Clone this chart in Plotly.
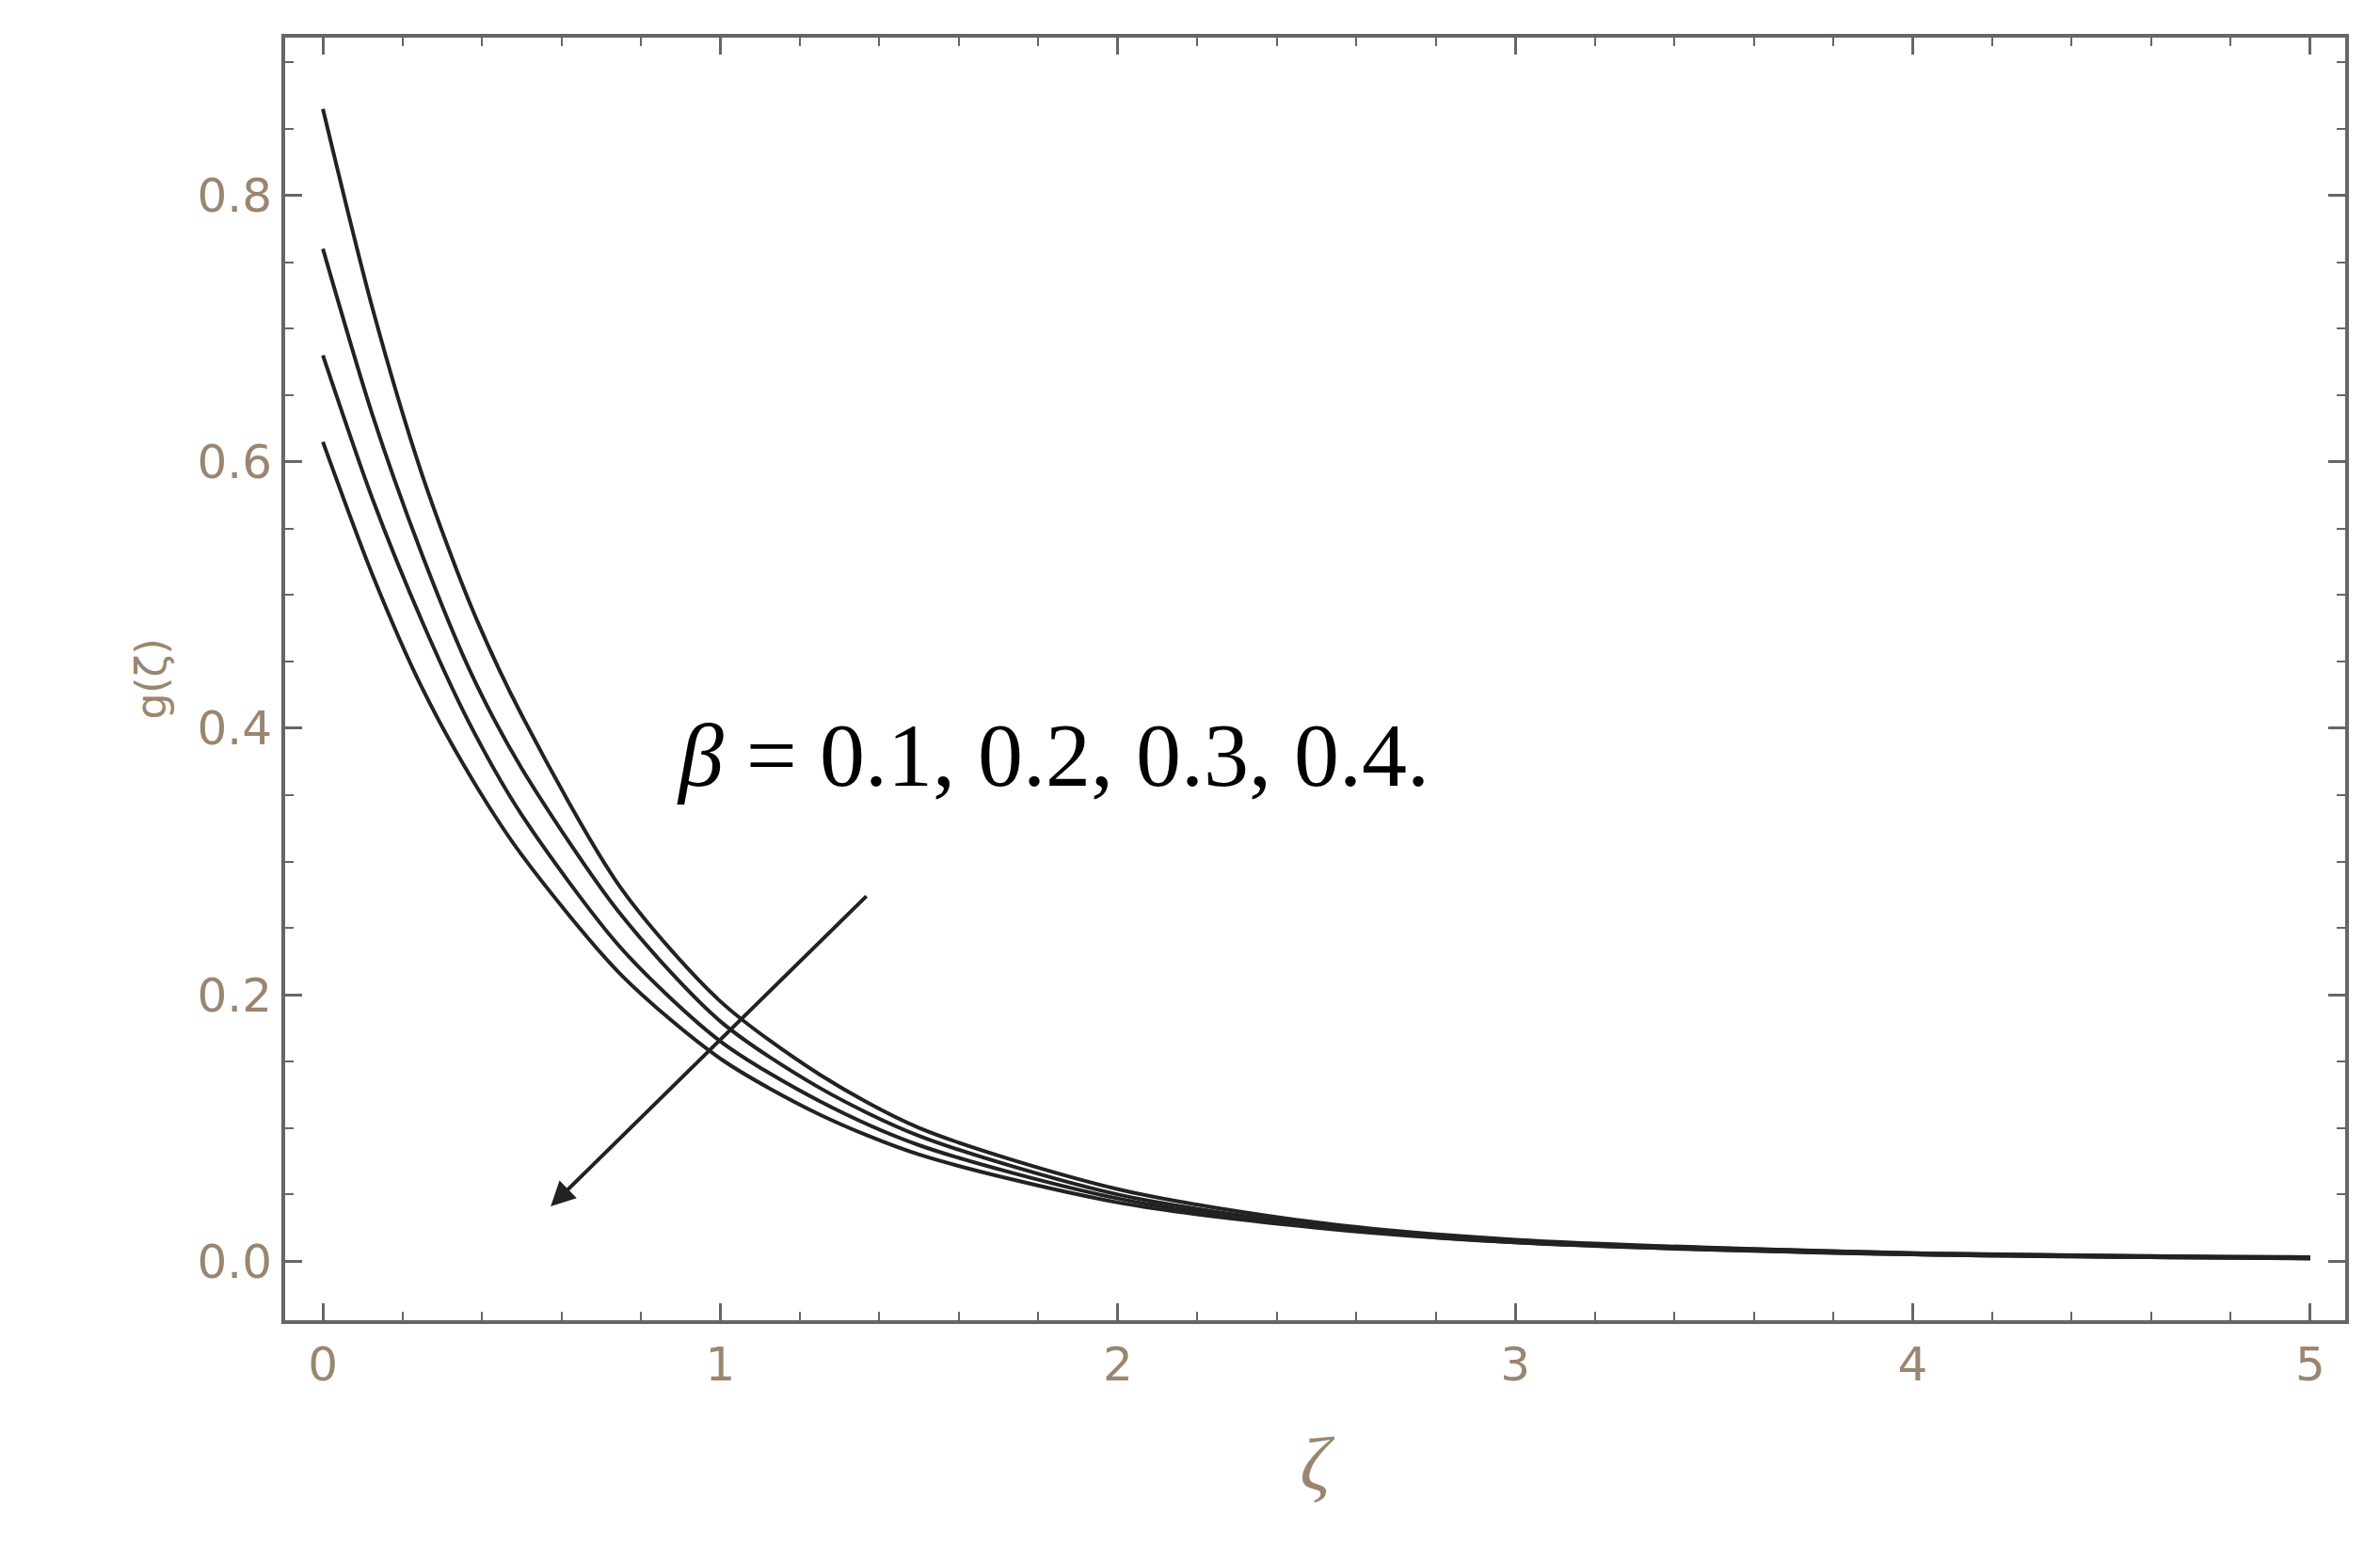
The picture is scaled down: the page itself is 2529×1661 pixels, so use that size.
import plotly.graph_objects as go

zeta = [0, 0.125, 0.25, 0.375, 0.5, 0.75, 1.0, 1.25, 1.5, 2.0, 2.5, 3.0, 4.0, 5.0]
g_b01 = [0.865, 0.715, 0.59, 0.49, 0.41, 0.28, 0.195, 0.140, 0.100, 0.054, 0.029, 0.016, 0.006, 0.003]
g_b02 = [0.760, 0.635, 0.53, 0.44, 0.37, 0.26, 0.180, 0.130, 0.094, 0.050, 0.027, 0.015, 0.006, 0.002]
g_b03 = [0.680, 0.572, 0.48, 0.40, 0.335, 0.235, 0.165, 0.120, 0.087, 0.047, 0.026, 0.014, 0.005, 0.002]
g_b04 = [0.615, 0.515, 0.43, 0.362, 0.305, 0.215, 0.152, 0.110, 0.080, 0.044, 0.025, 0.014, 0.005, 0.002]
label = "<i>β</i> = 0.1, 0.2, 0.3, 0.4."

fig = go.Figure()
for ys in [g_b01, g_b02, g_b03, g_b04]:
    fig.add_trace(go.Scatter(x=zeta, y=ys, mode="lines", line=dict(color="#222", width=4, shape="spline", smoothing=0.8), showlegend=False))

fig.add_annotation(x=0.573, y=0.041, ax=1.371, ay=0.275, xref="x", yref="y", axref="x", ayref="y",
                   showarrow=True, arrowhead=2, arrowsize=1.3, arrowwidth=4, arrowcolor="#222", text="")
fig.add_annotation(x=0.886, y=0.38, xref="x", yref="y", text=label, showarrow=False, xanchor="left",
                   font=dict(family="Liberation Serif", size=96, color="black"))

tickfont = dict(family="DejaVu Sans", size=50, color="#9a8670")
axcommon = dict(showgrid=False, zeroline=False, showline=True, linecolor="#666", linewidth=4, mirror="allticks",
                ticks="inside", ticklen=18, tickwidth=3, tickcolor="#666", tickfont=tickfont)
fig.update_xaxes(range=[-0.095, 5.088], tick0=0, dtick=1, minor=dict(dtick=0.2, ticks="inside", ticklen=9, tickcolor="#666", tickwidth=2),
                 title=dict(text="<i>ζ</i>", font=dict(family="Liberation Serif", size=80, color="#9a8670"), standoff=50), **axcommon)
fig.update_yaxes(range=[-0.0444, 0.9185], tick0=0, dtick=0.2, tickformat=".1f",
                 minor=dict(dtick=0.05, ticks="inside", ticklen=9, tickcolor="#666", tickwidth=2),
                 title=dict(text="g(ζ)", font=dict(family="DejaVu Sans", size=44, color="#9a8670"), standoff=20), **axcommon)
fig.update_layout(width=2529, height=1661, plot_bgcolor="white", paper_bgcolor="white",
                  margin=dict(l=295, r=45, t=32, b=266))
fig.write_html("out.html")
